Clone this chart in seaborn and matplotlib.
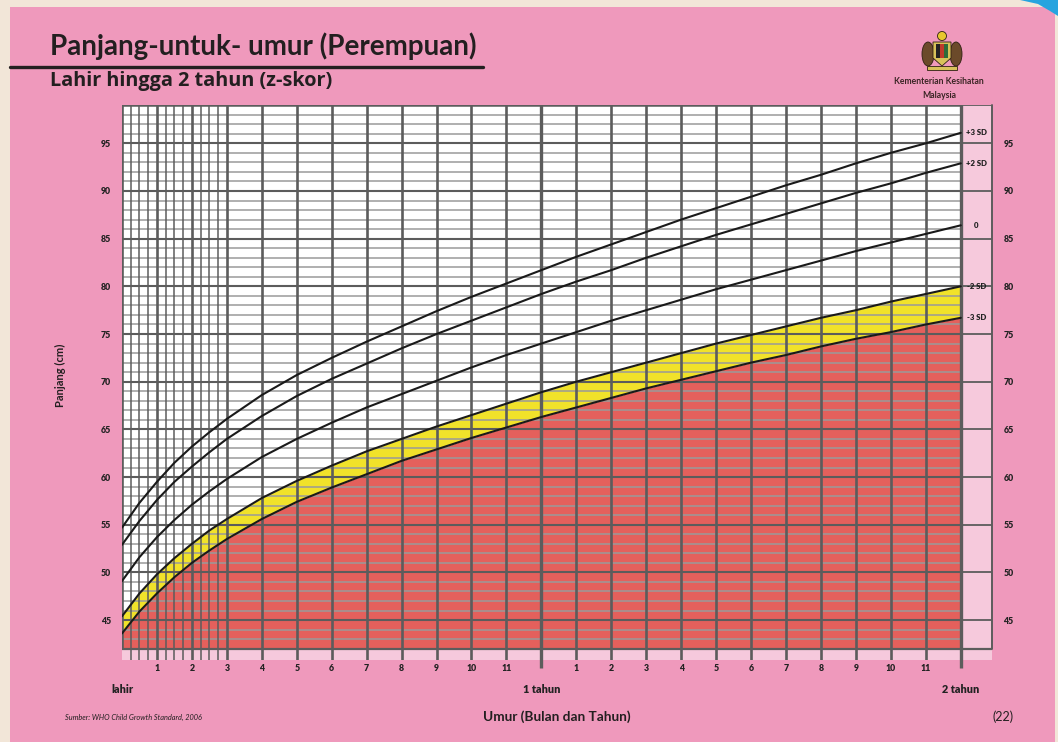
import numpy as np
import pandas as pd
import seaborn as sns
import matplotlib
matplotlib.use("Agg")
import matplotlib.pyplot as plt
from matplotlib.patches import Rectangle, Polygon, Ellipse, Circle

# ---------------- data (WHO length-for-age, girls, birth to 2 years) -------------
age_months = [0, 0.5, 1, 1.5, 2, 2.5, 3, 4, 5, 6, 7, 8, 9, 10, 11, 12,
              13, 14, 15, 16, 17, 18, 19, 20, 21, 22, 23, 24]
sd_neg3 = [43.6, 45.9, 47.8, 49.5, 51.0, 52.3, 53.5, 55.6, 57.4, 58.9, 60.3, 61.7, 62.9,
           64.1, 65.2, 66.3, 67.3, 68.3, 69.3, 70.2, 71.1, 72.0, 72.8, 73.7, 74.5, 75.2,
           76.0, 76.7]
sd_neg2 = [45.4, 47.8, 49.8, 51.5, 53.0, 54.4, 55.6, 57.8, 59.6, 61.2, 62.7, 64.0, 65.3,
           66.5, 67.7, 68.9, 70.0, 71.0, 72.0, 73.0, 74.0, 74.9, 75.8, 76.7, 77.5, 78.4,
           79.2, 80.0]
sd_0 = [49.1, 51.6, 53.7, 55.5, 57.1, 58.5, 59.8, 62.1, 64.0, 65.7, 67.3, 68.7, 70.1,
        71.5, 72.8, 74.0, 75.2, 76.4, 77.5, 78.6, 79.7, 80.7, 81.7, 82.7, 83.7, 84.6,
        85.5, 86.4]
sd_pos2 = [52.9, 55.4, 57.6, 59.5, 61.1, 62.6, 64.0, 66.4, 68.5, 70.3, 71.9, 73.5, 75.0,
           76.4, 77.8, 79.2, 80.5, 81.7, 83.0, 84.2, 85.4, 86.5, 87.6, 88.7, 89.8, 90.8,
           91.9, 92.9]
sd_pos3 = [54.7, 57.3, 59.5, 61.5, 63.2, 64.7, 66.1, 68.6, 70.7, 72.5, 74.2, 75.8, 77.4,
           78.9, 80.3, 81.7, 83.1, 84.4, 85.7, 87.0, 88.2, 89.4, 90.6, 91.7, 92.9, 94.0,
           95.0, 96.1]
curve_labels = ["-3 SD", "-2 SD", "0", "+2 SD", "+3 SD"]

month_tick_pos = [1, 2, 3, 4, 5, 6, 7, 8, 9, 10, 11, 13, 14, 15, 16, 17, 18, 19, 20,
                  21, 22, 23]
month_tick_labels = ["1", "2", "3", "4", "5", "6", "7", "8", "9", "10", "11",
                     "1", "2", "3", "4", "5", "6", "7", "8", "9", "10", "11"]
year_tick_pos = [0, 12, 24]
year_tick_labels = ["lahir", "1 tahun", "2 tahun"]
y_ticks = [45, 50, 55, 60, 65, 70, 75, 80, 85, 90, 95]

# ---------------- styling -------------
PINK = "#EF99BC"
LIGHT_PINK = "#F6C9DC"
RED = "#E4605C"
YELLOW = "#F1E22A"
BEIGE = "#F2E6D8"
GRID_DARK = "#5c5c5c"
GRID_LIGHT = "#9a9a9a"
TXT = "#231f20"
FONT = "Lato"

sns.set_theme(style="white")
plt.rcParams["font.family"] = [FONT, "DejaVu Sans"]

W, H = 1058, 742
fig = plt.figure(figsize=(W / 100, H / 100), dpi=100)
fig.patch.set_facecolor(BEIGE)

def fx(px):
    return px / W

def fy(py):
    return 1 - py / H

# pink page
fig.patches.append(Rectangle((fx(10), 0), fx(1055) - fx(10), fy(7), transform=fig.transFigure,
                             facecolor=PINK, edgecolor="none", zorder=-2))
# blue corner decoration
fig.patches.append(Polygon([(fx(1020), 1), (fx(1058), 1), (fx(1058), fy(16)),
                            (fx(1050), fy(11)), (fx(1038), fy(4))],
                           closed=True, transform=fig.transFigure,
                           facecolor="#27A4DF", edgecolor="none", zorder=-1))

# ---------------- axes geometry -------------
X0, X_END, X_COL = 0.0, 24.0, 24.9
Y_BOT, Y_LOW, Y_TOP = 40.8, 42.0, 99.0
px_per_month = 34.95
px_per_cm = 9.536
left_px, top_px = 122, 143.3 - (Y_TOP + 0.05 - 95) * px_per_cm
width_px = X_COL * px_per_month
height_px = (Y_TOP + 0.05 - Y_BOT) * px_per_cm
ax = fig.add_axes([fx(left_px), fy(top_px + height_px), width_px / W, height_px / H])
ax.set_zorder(5)
ax.set_facecolor(LIGHT_PINK)
ax.set_xlim(X0, X_COL)
ax.set_ylim(Y_BOT, Y_TOP + 0.05)
for s in ax.spines.values():
    s.set_visible(False)

# white chart area
ax.add_patch(Rectangle((X0, Y_LOW), X_END - X0, Y_TOP - Y_LOW, facecolor="white",
                       edgecolor="none", zorder=0.5))

ages = np.array(age_months)
ax.fill_between(ages, Y_LOW, sd_neg3, color=RED, lw=0, zorder=1)
ax.fill_between(ages, sd_neg3, sd_neg2, color=YELLOW, lw=0, zorder=1)

# horizontal grid lines
for cm in range(42, 100):
    major = cm % 5 == 0
    ax.plot([X0, X_END], [cm, cm], color=GRID_DARK if major else GRID_LIGHT,
            lw=1.5 if major else 1.1, zorder=2, solid_capstyle="butt")
for cm in y_ticks:
    ax.plot([X_END, X_COL], [cm, cm], color=GRID_DARK, lw=1.3, zorder=2)
ax.plot([X_END, X_COL], [Y_TOP, Y_TOP], color=GRID_DARK, lw=1.3, zorder=2)
ax.plot([X_COL, X_COL], [Y_LOW, Y_TOP], color=GRID_DARK, lw=1.4, zorder=2, clip_on=False)

# vertical grid lines: quarter months in first 3 months, then months
for q in np.arange(0.25, 3.0, 0.25):
    if abs(q - round(q)) > 1e-6:
        ax.plot([q, q], [Y_BOT, Y_TOP], color=GRID_DARK, lw=1.1, zorder=2)
for m in range(0, 25):
    if m in (12, 24):
        ax.plot([m, m], [Y_BOT - 0.85, Y_TOP], color=GRID_DARK, lw=2.4, zorder=2,
                clip_on=False, solid_capstyle="butt")
    else:
        ax.plot([m, m], [Y_BOT if m > 0 else Y_LOW, Y_TOP], color=GRID_DARK,
                lw=1.9, zorder=2, solid_capstyle="butt")
ax.plot([X0, X_END], [Y_TOP, Y_TOP], color=GRID_DARK, lw=1.8, zorder=2)
ax.plot([X0, X_COL], [Y_LOW, Y_LOW], color=GRID_DARK, lw=1.6, zorder=2)

# z-score curves through seaborn
curves = [sd_neg3, sd_neg2, sd_0, sd_pos2, sd_pos3]
df = pd.DataFrame({"age": np.tile(ages, len(curves)),
                   "length": np.concatenate(curves),
                   "curve": np.repeat(curve_labels, len(ages))})
sns.lineplot(data=df, x="age", y="length", hue="curve", hue_order=curve_labels,
             palette=["#1a1a1a"] * len(curves), linewidth=1.5, legend=False,
             ax=ax, zorder=3, estimator=None, sort=False)
ax.set_xlabel("")
ax.set_ylabel("")

# curve labels in the right column
for lab, vals in zip(curve_labels, curves):
    ax.text(24.45, vals[-1], lab, ha="center", va="center", fontsize=5.6,
            fontweight="heavy", color="#222222", zorder=4)

# ticks
ax.set_xticks(month_tick_pos)
ax.set_xticklabels(month_tick_labels)
ax.set_xticks(year_tick_pos, minor=True)
ax.set_xticklabels(year_tick_labels, minor=True)
ax.tick_params(axis="x", which="major", length=0, pad=3, labelsize=6.3, colors="#222222")
ax.tick_params(axis="x", which="minor", length=0, pad=17, labelsize=7.8, colors="#222222")
for t in ax.get_xticklabels(which="both"):
    t.set_fontweight("heavy")
ax.set_yticks(y_ticks)
ax.set_yticklabels([str(v) for v in y_ticks])
ax.tick_params(axis="y", length=0, pad=8, labelsize=6.3, labelleft=True, labelright=True,
               colors="#222222")
for t in ax.get_yticklabels():
    t.set_fontweight("heavy")
ax.grid(False)

# ---------------- emblem (simplified) -------------
emb = fig.add_axes([fx(918), fy(72), fx(48), 42 / H])
emb.set_xlim(0, 48)
emb.set_ylim(0, 42)
emb.axis("off")
emb.add_patch(Ellipse((10, 18), 12, 24, facecolor="#6b4a2a", edgecolor="#2e1f12", lw=0.6))
emb.add_patch(Ellipse((38, 18), 12, 24, facecolor="#6b4a2a", edgecolor="#2e1f12", lw=0.6))
emb.add_patch(Polygon([(15, 30), (33, 30), (33, 14), (24, 6), (15, 14)], closed=True,
                      facecolor="#d8c25a", edgecolor="#2e1f12", lw=0.6))
emb.add_patch(Rectangle((18, 14), 4, 14, facecolor="#222222", edgecolor="none"))
emb.add_patch(Rectangle((22, 14), 4, 14, facecolor="#c0392b", edgecolor="none"))
emb.add_patch(Rectangle((26, 14), 4, 14, facecolor="#2f6b3a", edgecolor="none"))
emb.add_patch(Circle((24, 36), 4.5, facecolor="#e7c72e", edgecolor="#2e1f12", lw=0.6))
emb.add_patch(Rectangle((9, 2), 30, 4, facecolor="#d8c25a", edgecolor="#2e1f12", lw=0.6))

# ---------------- page texts -------------
fig.text(fx(50), fy(55), "Panjang-untuk- umur (Perempuan)", fontsize=20,
         fontweight="bold", color=TXT, ha="left", va="baseline")
fig.add_artist(plt.Line2D([fx(10), fx(483)], [fy(67), fy(67)], color=TXT, lw=2.4))
fig.text(fx(50), fy(86), "Lahir hingga 2 tahun (z-skor)", fontsize=14.3,
         fontweight="bold", color=TXT, ha="left", va="baseline",
         family=["Open Sans", "DejaVu Sans"])
fig.text(fx(939), fy(82), "Kementerian Kesihatan", fontsize=6.2, fontweight="bold",
         color="#3a2424", ha="center", va="center")
fig.text(fx(939), fy(95), "Malaysia", fontsize=6.2, fontweight="bold",
         color="#3a2424", ha="center", va="center")
fig.text(fx(60), fy(375), "Panjang (cm)", rotation=90, fontsize=8, fontweight="bold",
         color=TXT, ha="center", va="center")
fig.text(fx(557), fy(717), "Umur (Bulan dan Tahun)", fontsize=9.8, fontweight="bold",
         color=TXT, ha="center", va="center")
fig.text(fx(65), fy(717), "Sumber: WHO Child Growth Standard, 2006", fontsize=5.3,
         fontstyle="italic", color=TXT, ha="left", va="center")
fig.text(fx(1003), fy(717), "(22)", fontsize=9, color=TXT, ha="center",
         va="center")

fig.savefig("out.png", dpi=100, facecolor=fig.get_facecolor())
